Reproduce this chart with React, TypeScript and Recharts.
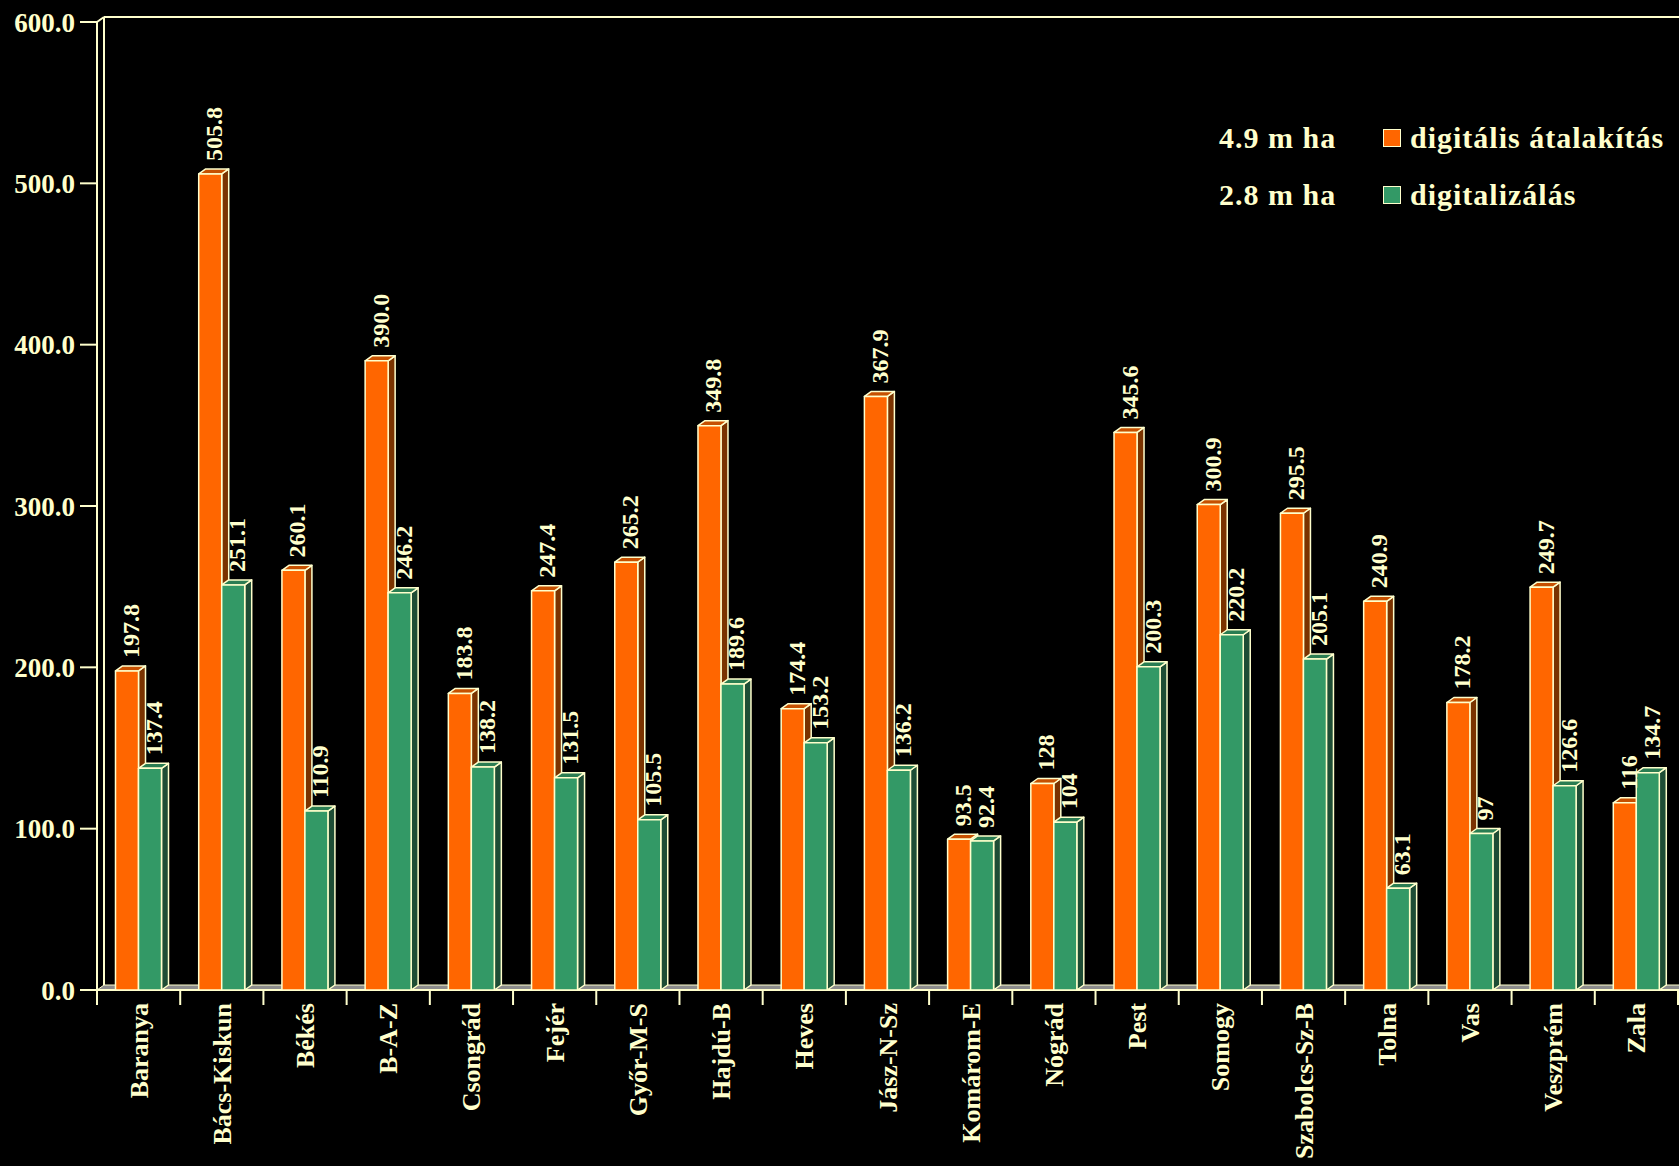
import React from 'react';
import { BarChart, Bar, XAxis, YAxis, ReferenceArea, LabelList, Legend } from 'recharts';

const counties = [
  'Baranya', 'Bács-Kiskun', 'Békés', 'B-A-Z', 'Csongrád', 'Fejér', 'Győr-M-S',
  'Hajdú-B', 'Heves', 'Jász-N-Sz', 'Komárom-E', 'Nógrád', 'Pest', 'Somogy',
  'Szabolcs-Sz-B', 'Tolna', 'Vas', 'Veszprém', 'Zala',
];

// values as printed above the bars
const transformLabels = [
  '197.8', '505.8', '260.1', '390.0', '183.8', '247.4', '265.2', '349.8', '174.4',
  '367.9', '93.5', '128', '345.6', '300.9', '295.5', '240.9', '178.2', '249.7', '116',
];
const digitalLabels = [
  '137.4', '251.1', '110.9', '246.2', '138.2', '131.5', '105.5', '189.6', '153.2',
  '136.2', '92.4', '104', '200.3', '220.2', '205.1', '63.1', '97', '126.6', '134.7',
];

const seriesNames = ['digitális átalakítás', 'digitalizálás'];
const seriesTotals = ['4.9 m ha', '2.8 m ha'];
const yTicks = [0, 100, 200, 300, 400, 500, 600];

const CREAM = '#FFFFCC';
const FONT = '"Liberation Serif", "Times New Roman", serif';
const DX = 7;
const DY = 5;

const data = counties.map((name, i) => ({
  name,
  transform: Number(transformLabels[i]),
  transformLabel: transformLabels[i],
  digital: Number(digitalLabels[i]),
  digitalLabel: digitalLabels[i],
}));

function bar3d(topColor: string, sideColor: string) {
  return (props: any) => {
    const { x, y, width: w, height: h, fill } = props;
    if (w == null || h == null) return null;
    return (
      <g stroke={CREAM} strokeWidth={1.5} strokeLinejoin="round">
        <polygon
          points={`${x + w},${y} ${x + w + DX},${y - DY} ${x + w + DX},${y + h - DY} ${x + w},${y + h}`}
          fill={sideColor}
        />
        <polygon
          points={`${x},${y} ${x + DX},${y - DY} ${x + w + DX},${y - DY} ${x + w},${y}`}
          fill={topColor}
        />
        <rect x={x} y={y} width={w} height={h} fill={fill} />
      </g>
    );
  };
}

const ValueLabel = (props: any) => {
  const { x, y, width, value } = props;
  const tx = x + width / 2 + 12;
  const ty = y - DY - 8;
  return (
    <text
      x={tx}
      y={ty}
      transform={`rotate(-90 ${tx} ${ty})`}
      fill={CREAM}
      fontFamily={FONT}
      fontWeight="bold"
      fontSize={24}
    >
      {value}
    </text>
  );
};

const CountyTick = (props: any) => {
  const { x, y, payload } = props;
  const tx = x + 9;
  return (
    <text
      x={tx}
      y={y}
      transform={`rotate(-90 ${tx} ${y})`}
      textAnchor="end"
      fill={CREAM}
      fontFamily={FONT}
      fontWeight="bold"
      fontSize={26}
    >
      {payload.value}
    </text>
  );
};

// back wall, floor and category separators
const Stage = (props: any) => {
  const { x, y, width, height } = props;
  const n = counties.length;
  const bottom = y + height;
  const right = x + width;
  const seps = counties.map((_, i) => x + (i * width) / n).concat(right);
  return (
    <g>
      <polygon
        points={`${x},${bottom} ${right},${bottom} ${right + DX},${bottom - DY} ${x + DX},${bottom - DY}`}
        fill="#8c8c8c"
        stroke={CREAM}
        strokeWidth={1}
      />
      <line x1={x + DX} y1={y - DY} x2={x + DX} y2={bottom - DY} stroke={CREAM} strokeWidth={2} />
      <line x1={x} y1={y} x2={x + DX} y2={y - DY} stroke={CREAM} strokeWidth={2} />
      <line x1={x + DX} y1={y - DY} x2={right + DX + 20} y2={y - DY} stroke={CREAM} strokeWidth={2} />
      <line x1={x} y1={bottom} x2={right + 20} y2={bottom} stroke={CREAM} strokeWidth={2} />
      {seps.map((sx, i) => (
        <line key={i} x1={sx} y1={bottom} x2={sx} y2={bottom + 15} stroke={CREAM} strokeWidth={2} />
      ))}
    </g>
  );
};

const LegendBox = (props: any) => {
  const entries = [...(props.payload || [])].sort(
    (a: any, b: any) => seriesNames.indexOf(a.value) - seriesNames.indexOf(b.value),
  );
  return (
    <div style={{ fontFamily: FONT, fontWeight: 'bold', fontSize: 30, color: CREAM }}>
      {entries.map((entry: any) => {
        const idx = seriesNames.indexOf(entry.value);
        return (
          <div key={entry.value} style={{ display: 'flex', alignItems: 'center', height: 57 }}>
            <span style={{ width: 164, letterSpacing: 1, whiteSpace: 'pre' }}>{seriesTotals[idx]}</span>
            <span
              style={{
                width: 16,
                height: 16,
                background: entry.color,
                border: `1.5px solid ${CREAM}`,
                marginRight: 9,
              }}
            />
            <span style={{ letterSpacing: 1 }}>{entry.value}</span>
          </div>
        );
      })}
    </div>
  );
};

export default function App() {
  return (
    <div style={{ position: 'absolute', left: 0, top: 0, width: 1679, height: 1166, background: '#000' }}>
      <BarChart
        width={1679}
        height={1166}
        data={data}
        margin={{ top: 22, right: 1, left: 0, bottom: 0 }}
        barCategoryGap={18.5}
        barGap={0}
      >
        <ReferenceArea y1={0} y2={600} ifOverflow="visible" shape={Stage} />
        <XAxis
          dataKey="name"
          interval={0}
          height={176}
          axisLine={false}
          tickLine={false}
          tickSize={13}
          tickMargin={0}
          tick={CountyTick}
        />
        <YAxis
          domain={[0, 600]}
          ticks={yTicks}
          width={97}
          axisLine={{ stroke: CREAM, strokeWidth: 2 }}
          tickLine={{ stroke: CREAM, strokeWidth: 2 }}
          tickSize={17}
          tickMargin={5}
          tickFormatter={(v: number) => v.toFixed(1)}
          tick={{ fill: CREAM, fontFamily: FONT, fontWeight: 'bold', fontSize: 27 }}
        />
        <Legend
          layout="horizontal"
          align="center"
          verticalAlign="middle"
          wrapperStyle={{ left: 1219, top: 109, width: 460 }}
          content={LegendBox}
        />
        <Bar
          dataKey="transform"
          name={seriesNames[0]}
          fill="#FF6600"
          shape={bar3d('#C65000', '#7A3300')}
          isAnimationActive={false}
        >
          <LabelList dataKey="transformLabel" content={ValueLabel} />
        </Bar>
        <Bar
          dataKey="digital"
          name={seriesNames[1]}
          fill="#339966"
          shape={bar3d('#2A7D52', '#1E4D35')}
          isAnimationActive={false}
        >
          <LabelList dataKey="digitalLabel" content={ValueLabel} />
        </Bar>
      </BarChart>
    </div>
  );
}
